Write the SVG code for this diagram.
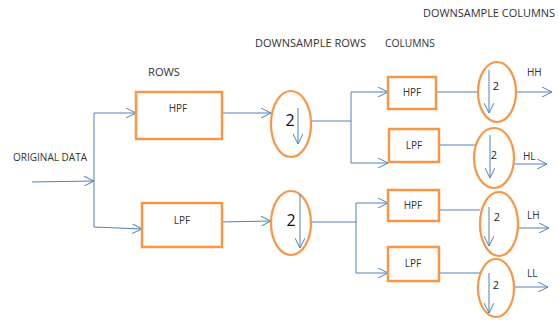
<svg xmlns="http://www.w3.org/2000/svg" width="559" height="320" viewBox="0 0 559 320">
  <style>
    .box { fill: #ffffff; stroke: #f79646; stroke-width: 2.5; }
    .ring { fill: #ffffff; stroke: #f79646; stroke-width: 2.2; }
    .wire { fill: none; stroke: #4f81bd; stroke-width: 1; }
    .arr { fill: none; stroke: #4f81bd; stroke-width: 1; marker-end: url(#vee); }
    .lbl { font-family: "Open Sans", "Liberation Sans", sans-serif; font-size: 10px; fill: #333333; }
    .big { font-family: "Open Sans", "Liberation Sans", sans-serif; font-size: 16px; fill: #111111; }
    .small { font-family: "Open Sans", "Liberation Sans", sans-serif; font-size: 11px; fill: #222222; }
  </style>
  <defs>
    <marker id="vee" viewBox="0 0 10 10" refX="10" refY="5" markerWidth="10" markerHeight="10" markerUnits="userSpaceOnUse" orient="auto">
      <polyline points="0,0 10,5 0,10" fill="none" stroke="#4f81bd" stroke-width="1"/>
    </marker>
  </defs>

  <rect width="559" height="320" fill="#ffffff"/>

  <!-- headings -->
  <g id="headings">
    <text class="lbl" x="423" y="17" textLength="132" lengthAdjust="spacingAndGlyphs">DOWNSAMPLE COLUMNS</text>
    <text class="lbl" x="255" y="47" textLength="111" lengthAdjust="spacingAndGlyphs">DOWNSAMPLE ROWS</text>
    <text class="lbl" x="385" y="47" textLength="50" lengthAdjust="spacingAndGlyphs">COLUMNS</text>
    <text class="lbl" x="148" y="76" textLength="32" lengthAdjust="spacingAndGlyphs">ROWS</text>
    <text class="lbl" x="13" y="161" textLength="74" lengthAdjust="spacingAndGlyphs">ORIGINAL DATA</text>
  </g>

  <!-- connectors -->
  <g id="connectors">
    <line class="arr" x1="32" y1="182" x2="94" y2="181"/>
    <polyline class="wire" points="94,113 94,227"/>
    <line class="arr" x1="94" y1="113" x2="136" y2="113"/>
    <line class="arr" x1="94" y1="227" x2="142" y2="229"/>
    <line class="arr" x1="222" y1="113" x2="271" y2="113"/>
    <line class="arr" x1="222" y1="222" x2="271" y2="221"/>

    <polyline class="wire" points="311,121 351,121"/>
    <polyline class="wire" points="351,92 351,163"/>
    <line class="arr" x1="351" y1="92" x2="388" y2="92"/>
    <line class="arr" x1="351" y1="163" x2="388" y2="163"/>

    <polyline class="wire" points="311,222 356,222"/>
    <polyline class="wire" points="356,203 356,273"/>
    <line class="arr" x1="356" y1="203" x2="388" y2="203"/>
    <line class="arr" x1="356" y1="273" x2="388" y2="273"/>

    <line class="wire" x1="436" y1="92" x2="478" y2="92"/>
    <line class="wire" x1="439" y1="145" x2="476" y2="145"/>
    <line class="wire" x1="439" y1="210" x2="480" y2="210"/>
    <line class="wire" x1="439" y1="273" x2="481" y2="273"/>

    <line class="arr" x1="517" y1="92" x2="552" y2="92"/>
    <line class="arr" x1="514" y1="164" x2="547" y2="164"/>
    <line class="arr" x1="517" y1="228" x2="549" y2="228"/>
    <line class="arr" x1="515" y1="287" x2="548" y2="287"/>
  </g>

  <!-- row filters -->
  <g id="row-hpf">
    <rect class="box" x="136" y="92" width="86" height="47"/>
    <text class="lbl" x="178" y="112" text-anchor="middle">HPF</text>
  </g>
  <g id="row-lpf">
    <rect class="box" x="142" y="203" width="80" height="44"/>
    <text class="lbl" x="182" y="224" text-anchor="middle">LPF</text>
  </g>

  <!-- row downsamplers -->
  <g id="down-row-h">
    <ellipse class="ring" cx="291" cy="124" rx="20" ry="33"/>
    <text class="big" x="290" y="126" text-anchor="middle">2</text>
    <line class="arr" x1="298" y1="108" x2="298" y2="144"/>
  </g>
  <g id="down-row-l">
    <ellipse class="ring" cx="291" cy="223" rx="20" ry="32"/>
    <text class="big" x="291" y="226" text-anchor="middle">2</text>
    <line class="arr" x1="300" y1="194" x2="300" y2="248"/>
  </g>

  <!-- column filters -->
  <g id="col-hpf-1">
    <rect class="box" x="388" y="77" width="48" height="32"/>
    <text class="lbl" x="412" y="96" text-anchor="middle">HPF</text>
  </g>
  <g id="col-lpf-1">
    <rect class="box" x="389" y="129" width="50" height="33"/>
    <text class="lbl" x="414" y="149" text-anchor="middle">LPF</text>
  </g>
  <g id="col-hpf-2">
    <rect class="box" x="388" y="190" width="51" height="31"/>
    <text class="lbl" x="413" y="209" text-anchor="middle">HPF</text>
  </g>
  <g id="col-lpf-2">
    <rect class="box" x="388" y="247" width="51" height="34"/>
    <text class="lbl" x="413" y="267" text-anchor="middle">LPF</text>
  </g>

  <!-- column downsamplers -->
  <g id="down-hh">
    <ellipse class="ring" cx="497" cy="92" rx="19" ry="30"/>
    <text class="small" x="496" y="90" text-anchor="middle">2</text>
    <line class="arr" x1="489" y1="70" x2="489" y2="113"/>
  </g>
  <g id="down-hl">
    <ellipse class="ring" cx="494" cy="158" rx="20" ry="30"/>
    <text class="small" x="494" y="159" text-anchor="middle">2</text>
    <line class="arr" x1="490" y1="135" x2="490" y2="178"/>
  </g>
  <g id="down-lh">
    <ellipse class="ring" cx="499" cy="224" rx="19" ry="32"/>
    <text class="small" x="497" y="221" text-anchor="middle">2</text>
    <line class="arr" x1="489" y1="207" x2="489" y2="246"/>
  </g>
  <g id="down-ll">
    <ellipse class="ring" cx="496" cy="288" rx="18" ry="29"/>
    <text class="small" x="496" y="289" text-anchor="middle">2</text>
    <line class="arr" x1="489" y1="273" x2="489" y2="313"/>
  </g>

  <!-- subband labels -->
  <g id="subband-labels">
    <text class="lbl" x="527" y="76">HH</text>
    <text class="lbl" x="523" y="160">HL</text>
    <text class="lbl" x="527" y="219">LH</text>
    <text class="lbl" x="527" y="277">LL</text>
  </g>
</svg>
